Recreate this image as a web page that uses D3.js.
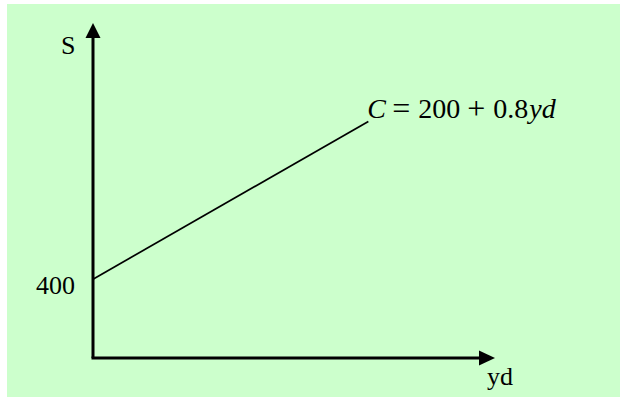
<!DOCTYPE html>
<html lang="en">
<head>
  <meta charset="UTF-8">
  <title>Consumption function</title>
  <script src="https://d3js.org/d3.v7.min.js"></script>
  <style>
    body { margin: 0; background: #fff; }
    text { font-family: "Liberation Serif", "Times New Roman", serif; fill: #000; }
  </style>
</head>
<body>
  <svg width="620" height="398"></svg>

  <script>
    // axis extents (data units) and the consumption line
    const xMax = 1460, yMax = 1700;
    const linePoints = [{ yd: 0, s: 400 }, { yd: 1000, s: 1200 }];
    const yTicks = [400];
    // equation pieces with horizontal offset from the start of the label
    const equation = [
      { t: "C", it: true, dx: 0, op: false },
      { t: "=", it: false, dx: 25, op: true },
      { t: "200", it: false, dx: 51, op: false },
      { t: "+", it: false, dx: 100, op: true },
      { t: "0.8", it: false, dx: 126, op: false },
      { t: "yd", it: true, dx: 162, op: false }
    ];

    const svg = d3.select("svg");

    // background panel
    svg.append("rect")
      .attr("x", 7).attr("y", 4)
      .attr("width", 613).attr("height", 393)
      .attr("fill", "#ccffcc");

    const x = d3.scaleLinear().domain([0, xMax]).range([93, 495]);
    const y = d3.scaleLinear().domain([0, yMax]).range([358, 23]);

    // axes
    svg.append("line")
      .attr("x1", x(0)).attr("y1", y(0))
      .attr("x2", x(0)).attr("y2", y(yMax) + 12)
      .attr("stroke", "#000").attr("stroke-width", 3);
    svg.append("line")
      .attr("x1", x(0) - 1.5).attr("y1", y(0))
      .attr("x2", x(xMax) - 12).attr("y2", y(0))
      .attr("stroke", "#000").attr("stroke-width", 3);

    // arrow heads
    const ax = x(0), ay = y(yMax);
    svg.append("path")
      .attr("d", `M${ax},${ay} L${ax - 7.5},${ay + 15} L${ax + 7.5},${ay + 15} Z`)
      .attr("fill", "#000");
    const bx = x(xMax), by = y(0);
    svg.append("path")
      .attr("d", `M${bx},${by} L${bx - 16},${by - 7.5} L${bx - 16},${by + 7.5} Z`)
      .attr("fill", "#000");

    // consumption line
    svg.append("path")
      .datum(linePoints)
      .attr("fill", "none")
      .attr("stroke", "#000")
      .attr("stroke-width", 1.7)
      .attr("d", d3.line().x(d => x(d.yd)).y(d => y(d.s)));

    // tick label
    svg.selectAll(".ytick")
      .data(yTicks)
      .join("text")
      .attr("class", "ytick")
      .attr("x", 75)
      .attr("y", d => y(d) + 15)
      .attr("text-anchor", "end")
      .attr("font-size", 26)
      .text(d => d);

    // axis titles
    svg.append("text").attr("x", 61).attr("y", 54)
      .attr("font-size", 26).text("S");
    svg.append("text").attr("x", 487).attr("y", 385)
      .attr("font-size", 26).text("yd");

    // equation label
    const last = linePoints[linePoints.length - 1];
    const ex = x(last.yd) - 1, ey = y(last.s) - 4;
    svg.selectAll(".eq")
      .data(equation)
      .join("text")
      .attr("class", "eq")
      .attr("x", d => ex + d.dx)
      .attr("y", d => d.op ? ey + 1 : ey)
      .attr("font-size", d => d.op ? 32 : 28)
      .attr("font-style", d => d.it ? "italic" : "normal")
      .text(d => d.t);
  </script>
</body>
</html>
